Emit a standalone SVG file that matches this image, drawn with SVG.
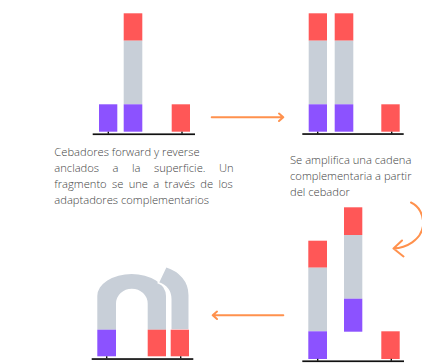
<svg xmlns="http://www.w3.org/2000/svg" width="422" height="363" viewBox="0 0 422 363">
  <style>
    .red { fill: #FF5757; }
    .pur { fill: #8C52FF; }
    .gry { fill: #C8CFD8; }
    .base { fill: #111111; }
    .txt { font-family: "Open Sans", "Liberation Sans", sans-serif; font-size: 11.2px; font-weight: 300; fill: #444444; }
    .flow { fill: none; stroke: #FF914D; stroke-width: 2; stroke-linecap: round; stroke-linejoin: round; }
  </style>

  <!-- Step 1: primers anchored, fragment bound -->
  <g id="step1">
    <rect class="pur" x="99" y="104.3" width="18.3" height="27.4"/>
    <rect class="red" x="123.7" y="13.3" width="18.6" height="27.4"/>
    <rect class="gry" x="123.7" y="40.7" width="18.6" height="63.6"/>
    <rect class="pur" x="123.7" y="104.3" width="18.6" height="27.4"/>
    <rect class="red" x="171.7" y="104.3" width="18.3" height="27.4"/>
    <rect class="base" x="92.7" y="133.4" width="102.3" height="1.7"/>
    <rect class="base" x="107.6" y="131.7" width="1.4" height="2"/>
    <rect class="base" x="181.3" y="131.7" width="1.4" height="2"/>
    <text class="txt" x="54.3" y="156.2">Cebadores forward y reverse</text>
    <text class="txt" x="54.3" y="172.2" word-spacing="10.6">anclados a la superficie. Un</text>
    <text class="txt" x="54.3" y="188.2" word-spacing="2.4">fragmento se une a través de los</text>
    <text class="txt" x="54.3" y="204.2">adaptadores complementarios</text>
  </g>

  <!-- Step 2: complementary strand extended from primer -->
  <g id="step2">
    <rect class="red" x="308.7" y="13.3" width="18.3" height="27.4"/>
    <rect class="gry" x="308.7" y="40.7" width="18.3" height="63.6"/>
    <rect class="pur" x="308.7" y="104.3" width="18.3" height="27.4"/>
    <rect class="red" x="334.7" y="13.3" width="18.6" height="27.4"/>
    <rect class="gry" x="334.7" y="40.7" width="18.6" height="63.6"/>
    <rect class="pur" x="334.7" y="104.3" width="18.6" height="27.4"/>
    <rect class="red" x="381.3" y="104.3" width="18.4" height="27.4"/>
    <rect class="base" x="302.3" y="133.2" width="101.4" height="1.7"/>
    <rect class="base" x="317" y="131.7" width="1.4" height="2"/>
    <rect class="base" x="391" y="131.7" width="1.4" height="2"/>
    <text class="txt" x="290" y="163.5">Se amplifica una cadena</text>
    <text class="txt" x="290" y="179.5">complementaria a partir</text>
    <text class="txt" x="290" y="195.5">del cebador</text>
  </g>

  <!-- Step 3: original strand washed off -->
  <g id="step3">
    <rect class="red" x="308.3" y="240.7" width="18.7" height="27"/>
    <rect class="gry" x="308.3" y="267.7" width="18.7" height="63.6"/>
    <rect class="pur" x="308.3" y="331.3" width="18.7" height="27.7"/>
    <rect class="red" x="344" y="207.3" width="18.3" height="27.7"/>
    <rect class="gry" x="344" y="235" width="18.3" height="63.7"/>
    <rect class="pur" x="344" y="298.7" width="18.3" height="33"/>
    <rect class="red" x="381.3" y="331.3" width="18.4" height="27.7"/>
    <rect class="base" x="302.3" y="360.4" width="101.7" height="1.7"/>
    <rect class="base" x="317" y="358.8" width="1.4" height="2"/>
    <rect class="base" x="390.6" y="358.8" width="1.4" height="2"/>
  </g>

  <!-- Step 4: bridge formation -->
  <g id="step4">
    <path class="gry" d="M97.3,329.7 V296 A34.3,22 0 0 1 166,296 V329.7 H147.7 V303.7 A15.8,15 0 0 0 116,303.7 V329.7 Z"/>
    <path class="gry" d="M170.7,330 V299 C170.7,291 166,285.5 158.3,282.7 L166,266.5 C180,271 189.3,281 189.3,295.3 V330 Z" stroke="#FFFFFF" stroke-width="1.6"/>
    <rect class="pur" x="97.3" y="329.7" width="18.7" height="26.6"/>
    <rect class="red" x="147.7" y="329.7" width="18.3" height="26.6"/>
    <rect class="red" x="170.7" y="329.7" width="18.3" height="26.6"/>
    <rect class="base" x="91.7" y="358.2" width="101.6" height="1.7"/>
    <rect class="base" x="106" y="356.3" width="1.4" height="2"/>
    <rect class="base" x="180" y="356.3" width="1.4" height="2"/>
  </g>

  <!-- Flow between steps -->
  <g id="connectors">
    <path class="flow" d="M211.7,117.3 H283.3 M279,113.6 L283.3,117.3 L279,121"/>
    <path class="flow" stroke-width="2.6" d="M411,202.5 C419,206 424,215 423,226 C421,240 406,248 393.5,248.5 M402,240.5 L393.5,248.5 L403.5,256.5"/>
    <path class="flow" d="M283.3,315.3 H212.7 M217,311.6 L212.7,315.3 L217,319"/>
  </g>
</svg>
